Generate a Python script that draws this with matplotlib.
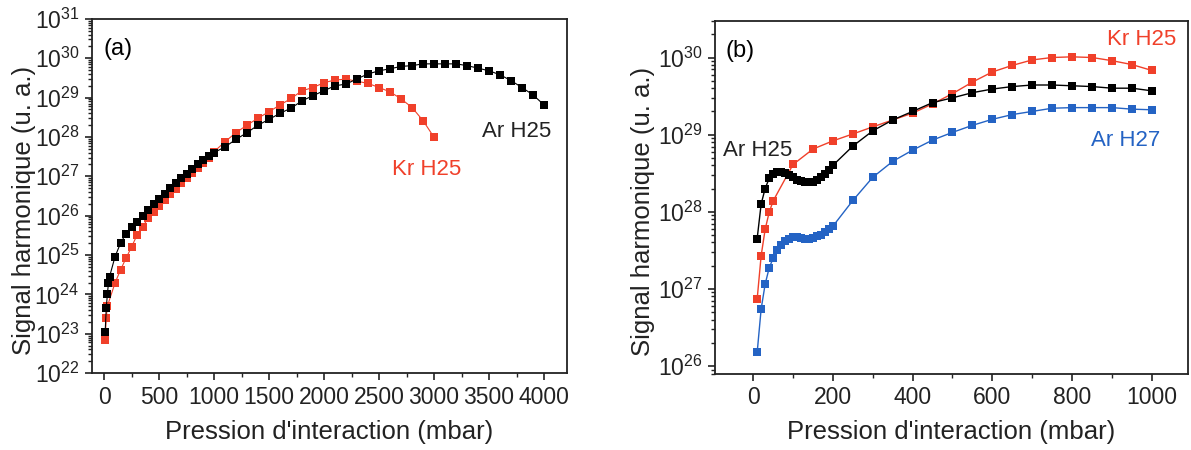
import numpy as np
import matplotlib
matplotlib.use("Agg")
import matplotlib.pyplot as plt
from matplotlib.ticker import LogLocator, MultipleLocator, NullFormatter

plt.rcParams['font.family'] = ['Liberation Sans', 'DejaVu Sans']

RED = '#f0402a'
BLUE = '#2463c4'

# (a) argon H25 and krypton H25 vs pressure (mbar)
a_ar_p = [10, 20, 30, 40, 50, 100, 150, 200, 250, 300, 350, 400, 450, 500, 550, 600,
          650, 700, 750, 800, 850, 900, 950, 1000, 1100, 1200, 1300, 1400, 1500, 1600,
          1700, 1800, 1900, 2000, 2100, 2200, 2300, 2400, 2500, 2600, 2700, 2800, 2900,
          3000, 3100, 3200, 3300, 3400, 3500, 3600, 3700, 3800, 3900, 4000]
a_ar_s = [1.1e23, 4.4e23, 1.0e24, 1.9e24, 2.8e24, 9.1e24, 2.0e25, 3.5e25, 5.2e25, 7.1e25,
          1.0e26, 1.4e26, 2.0e26, 2.7e26, 3.6e26, 5.0e26, 6.6e26, 8.9e26, 1.17e27, 1.5e27,
          2.0e27, 2.6e27, 3.2e27, 4.0e27, 5.6e27, 8.7e27, 1.29e28, 2.0e28, 2.8e28, 4.0e28,
          5.4e28, 8.3e28, 1.12e29, 1.5e29, 2.0e29, 2.2e29, 3.0e29, 4.0e29, 4.8e29, 5.4e29,
          6.2e29, 6.5e29, 7.2e29, 7.2e29, 7.2e29, 7.2e29, 6.5e29, 5.6e29, 4.8e29, 3.8e29,
          2.7e29, 1.8e29, 1.17e29, 6.5e28]
a_kr_p = [10, 20, 30, 100, 150, 200, 250, 300, 350, 400, 450, 500, 550, 600, 650, 700,
          750, 800, 850, 900, 950, 1000, 1100, 1200, 1300, 1400, 1500, 1600, 1700, 1800,
          1900, 2000, 2100, 2200, 2300, 2400, 2500, 2600, 2700, 2800, 2900, 3000]
a_kr_s = [6.8e22, 2.5e23, 5.0e23, 1.95e24, 4.2e24, 8.3e24, 1.6e25, 3.2e25, 5.2e25, 8.5e25,
          1.26e26, 1.8e26, 2.5e26, 3.5e26, 4.8e26, 6.6e26, 8.9e26, 1.2e27, 1.66e27, 2.2e27,
          3.0e27, 4.2e27, 7.6e27, 1.29e28, 2.0e28, 3.0e28, 4.4e28, 6.5e28, 9.5e28, 1.5e29,
          1.8e29, 2.4e29, 2.8e29, 2.95e29, 2.6e29, 2.3e29, 1.8e29, 1.4e29, 9.3e28, 5.6e28,
          2.6e28, 9.8e27]

# (b) low pressure range
b_p_fine = [10, 20, 30, 40, 50, 60, 70, 80, 90, 100, 110, 120, 130, 140, 150, 160, 170,
            180, 190, 200, 250, 300, 350, 400, 450, 500, 550, 600, 650, 700, 750, 800,
            850, 900, 950, 1000]
b_ar25_s = [4.5e27, 1.26e28, 2.0e28, 2.7e28, 3.1e28, 3.3e28, 3.3e28, 3.2e28, 3.0e28,
            2.8e28, 2.6e28, 2.5e28, 2.4e28, 2.4e28, 2.45e28, 2.6e28, 2.8e28, 3.1e28,
            3.5e28, 4.0e28, 7.1e28, 1.12e29, 1.55e29, 2.0e29, 2.6e29, 3.0e29, 3.5e29,
            3.9e29, 4.2e29, 4.4e29, 4.4e29, 4.3e29, 4.2e29, 4.0e29, 4.0e29, 3.7e29]
b_ar27_s = [1.5e26, 5.5e26, 1.15e27, 1.86e27, 2.5e27, 3.2e27, 3.7e27, 4.2e27, 4.5e27,
            4.7e27, 4.7e27, 4.6e27, 4.5e27, 4.45e27, 4.55e27, 4.8e27, 5.0e27, 5.4e27,
            5.9e27, 6.5e27, 1.4e28, 2.8e28, 4.5e28, 6.3e28, 8.5e28, 1.07e29, 1.32e29,
            1.58e29, 1.82e29, 2.0e29, 2.2e29, 2.24e29, 2.24e29, 2.24e29, 2.14e29, 2.1e29]
b_kr_p = [10, 20, 30, 40, 50, 100, 150, 200, 250, 300, 350, 400, 450, 500, 550, 600, 650,
          700, 750, 800, 850, 900, 950, 1000]
b_kr25_s = [7.4e26, 2.7e27, 5.9e27, 9.8e27, 1.38e28, 4.1e28, 6.5e28, 8.3e28, 1.02e29,
            1.26e29, 1.55e29, 1.9e29, 2.5e29, 3.4e29, 4.8e29, 6.5e29, 7.9e29, 9.3e29,
            1.0e30, 1.02e30, 1.0e30, 9.1e29, 8.1e29, 6.8e29]

fig = plt.figure(figsize=(11.91, 4.5), dpi=100)
axa = fig.add_axes([0.0772, 0.171, 0.399, 0.787])
axb = fig.add_axes([0.6006, 0.170, 0.3966, 0.784])

axa.plot(a_kr_p, a_kr_s, 's-', color=RED, ms=6, lw=0.8, mew=0)
axa.plot(a_ar_p, a_ar_s, 's-', color='black', ms=6, lw=0.8, mew=0)
axb.plot(b_kr_p, b_kr25_s, 's-', color=RED, ms=5.2, lw=1.0, mew=0)
axb.plot(b_p_fine, b_ar27_s, 's-', color=BLUE, ms=5.2, lw=1.0, mew=0)
axb.plot(b_p_fine, b_ar25_s, 's-', color='black', ms=5.2, lw=1.0, mew=0)

for ax in (axa, axb):
    ax.set_yscale('log')
    ax.yaxis.set_major_locator(LogLocator(base=10, numticks=20))
    ax.yaxis.set_minor_locator(LogLocator(base=10, subs=np.arange(2, 10), numticks=20))
    ax.yaxis.set_minor_formatter(NullFormatter())
    ax.tick_params(which='both', direction='out', top=False, right=False,
                   labelsize=16.5, colors='#222222')
    ax.tick_params(which='major', length=5, width=1.2, pad=4)
    ax.tick_params(which='minor', length=3, width=1.0)
    for s in ax.spines.values():
        s.set_linewidth(1.3)
        s.set_color('#222222')
    ax.set_xlabel("Pression d'interaction (mbar)", fontsize=18.5, color='#222222', labelpad=8)

axa.set_ylabel("Signal harmonique (u. a.)", fontsize=18.5, color='#222222')
axb.set_ylabel("Signal harmonique (u. a.)", fontsize=18.5, color='#222222')
axa.yaxis.set_label_coords(-0.118, 0.46)
axb.yaxis.set_label_coords(-0.128, 0.46)

axa.set_xlim(-110, 4210)
axa.set_ylim(1e22, 1e31)
axa.xaxis.set_major_locator(MultipleLocator(500))
axa.xaxis.set_minor_locator(MultipleLocator(250))

axb.set_xlim(-95, 1090)
axb.set_ylim(8e25, 3e30)
axb.xaxis.set_major_locator(MultipleLocator(200))
axb.xaxis.set_minor_locator(MultipleLocator(100))

axa.text(0.025, 0.915, '(a)', transform=axa.transAxes, fontsize=17, va='center')
axa.text(3440, 1.0e28, 'Ar H25', fontsize=16, color='#222222')
axa.text(2615, 1.1e27, 'Kr H25', fontsize=16, color=RED)

axb.text(0.022, 0.915, '(b)', transform=axb.transAxes, fontsize=17, va='center')
axb.text(888, 1.45e30, 'Kr H25', fontsize=16, color=RED)
axb.text(-75, 5.3e28, 'Ar H25', fontsize=16, color='#222222')
axb.text(848, 7.2e28, 'Ar H27', fontsize=16, color=BLUE)

fig.savefig('out.png', dpi=100)
